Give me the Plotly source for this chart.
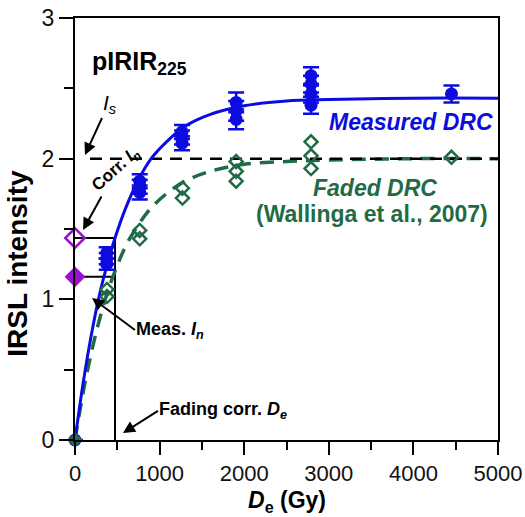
import plotly.graph_objects as go

# ---- data ----
meas_x = [0, 375, 375, 375, 765, 765, 765, 1265, 1265, 1265, 1905, 1905, 1905, 2790, 2790, 2790, 2790, 4450]
meas_y = [0, 1.25, 1.29, 1.33, 1.76, 1.80, 1.84, 2.11, 2.15, 2.19, 2.28, 2.34, 2.40, 2.38, 2.46, 2.53, 2.59, 2.46]
meas_err = [0, 0.04, 0.04, 0.04, 0.05, 0.05, 0.05, 0.05, 0.05, 0.05, 0.07, 0.07, 0.07, 0.06, 0.06, 0.06, 0.06, 0.06]

faded_x = [378, 378, 765, 765, 1270, 1270, 1905, 1905, 1905, 2790, 2790, 2790, 4450]
faded_y = [1.02, 1.07, 1.43, 1.49, 1.72, 1.79, 1.84, 1.91, 1.98, 1.93, 2.02, 2.12, 2.01]

meas_curve_x = [0, 100, 200, 300, 400, 473, 600, 750, 900, 1100, 1300, 1600, 2000, 2500, 3000, 4000, 5000]
meas_curve_y = [0, 0.42, 0.77, 1.06, 1.29, 1.436, 1.65, 1.85, 2.00, 2.13, 2.23, 2.315, 2.376, 2.41, 2.42, 2.43, 2.43]

faded_curve_x = [0, 100, 200, 300, 400, 500, 600, 750, 900, 1100, 1300, 1600, 2000, 2500, 3000, 4000, 5000]
faded_curve_y = [0, 0.35, 0.64, 0.88, 1.08, 1.24, 1.38, 1.53, 1.65, 1.76, 1.84, 1.91, 1.96, 1.98, 1.99, 2.0, 2.0]

sat_level_x = [177, 5000]
sat_level_y = [2.0, 2.0]

I_s_corr = 1.436      # corrected natural signal
I_n_meas = 1.16       # measured natural signal
De_corr = 473         # fading corrected De (Gy)

x_ticks = [0, 1000, 2000, 3000, 4000, 5000]
y_ticks = [0, 1, 2, 3]

BLUE = "#0c0ce0"
GREEN = "#1f6b45"
MAGENTA = "#9a10cf"
FONT = "Arial, Liberation Sans, sans-serif"

fig = go.Figure()

# guide lines
fig.add_trace(go.Scatter(x=[0, De_corr, De_corr], y=[I_s_corr, I_s_corr, 0], mode="lines",
                         line=dict(color="black", width=2), hoverinfo="skip", cliponaxis=False))
fig.add_trace(go.Scatter(x=[0, De_corr], y=[I_n_meas, I_n_meas], mode="lines",
                         line=dict(color="black", width=2), hoverinfo="skip"))

# faded curve (dashed green)
fig.add_trace(go.Scatter(x=faded_curve_x, y=faded_curve_y, mode="lines", line_shape="spline",
                         line=dict(color=GREEN, width=3.5, dash="14px,9px")))
# saturation level
fig.add_trace(go.Scatter(x=sat_level_x, y=sat_level_y, mode="lines",
                         line=dict(color="black", width=2.5, dash="12px,8px")))
# measured curve
fig.add_trace(go.Scatter(x=meas_curve_x, y=meas_curve_y, mode="lines", line_shape="spline",
                         line=dict(color=BLUE, width=3)))

# faded data
fig.add_trace(go.Scatter(x=faded_x, y=faded_y, mode="markers", cliponaxis=False,
                         marker=dict(symbol="diamond-open", size=10, color=GREEN, line=dict(width=2.5, color=GREEN))))
# measured data
fig.add_trace(go.Scatter(x=meas_x, y=meas_y, mode="markers", cliponaxis=False,
                         error_y=dict(type="data", array=meas_err, color=BLUE, thickness=2.5, width=8),
                         marker=dict(symbol="circle", size=13, color=BLUE)))
# zero point
fig.add_trace(go.Scatter(x=[0], y=[0], mode="markers", cliponaxis=False,
                         marker=dict(symbol="diamond", size=12, color="#1d6a4c")))
# natural signals on y axis
fig.add_trace(go.Scatter(x=[0], y=[I_s_corr], mode="markers", cliponaxis=False,
                         marker=dict(symbol="diamond-open", size=15, color=MAGENTA, line=dict(width=2.5, color=MAGENTA))))
fig.add_trace(go.Scatter(x=[0], y=[I_n_meas], mode="markers", cliponaxis=False,
                         marker=dict(symbol="diamond", size=16, color=MAGENTA)))

ann = []
def txt(x, y, text, size, color="black", xanchor="center", angle=0, xref="x", yref="y"):
    ann.append(dict(x=x, y=y, xref=xref, yref=yref, text=text, showarrow=False, xanchor=xanchor,
                    yanchor="middle", textangle=angle, font=dict(family=FONT, size=size, color=color)))

def arrow_txt(x, y, ax, ay, text, size, xanchor, yanchor, angle=0):
    ann.append(dict(x=x, y=y, xref="x", yref="y", ax=ax, ay=ay, axref="pixel", ayref="pixel",
                    text=text, xanchor=xanchor, yanchor=yanchor, textangle=angle,
                    font=dict(family=FONT, size=size, color="black"),
                    showarrow=True, arrowhead=2, arrowsize=1.2, arrowwidth=2,
                    arrowcolor="black", standoff=0, startstandoff=0, borderpad=0))

txt(177, 2.68, "<b>pIRIR<sub>225</sub></b>", 25, xanchor="left")
txt(4965, 2.26, "<b><i>Measured DRC</i></b>", 23, color=BLUE, xanchor="right")
txt(3546, 1.79, "<b><i>Faded DRC</i></b>", 23, color=GREEN)
txt(3511, 1.61, "<b>(Wallinga et al., 2007)</b>", 23, color=GREEN)
txt(-0.135, 0.42, "<b>IRSL intensity</b>", 28, angle=-90, xref="paper", yref="paper")
txt(0.501, -0.145, "<b><i>D</i><sub>e</sub> (Gy)</b>", 23, xref="paper", yref="paper")

arrow_txt(118, 2.026, 17, -37, "<i>I</i><sub><i>s</i></sub>", 21, "left", "bottom")
arrow_txt(95, 1.493, 33, -60, "<b>Corr. <i>I</i><sub><i>n</i></sub></b>", 17, "center", "middle", angle=-42)
arrow_txt(201, 1.009, 43, 32, "<b>Meas. <i>I</i><sub><i>n</i></sub></b>", 18, "left", "middle")
arrow_txt(567, 0.05, 35, -22, "<b>Fading corr. <i>D</i><sub><i>e</i></sub></b>", 18, "left", "middle")

fig.update_layout(
    width=525, height=517,
    margin=dict(l=75, r=27, t=18, b=77, autoexpand=False),
    paper_bgcolor="white", plot_bgcolor="white",
    showlegend=False,
    font=dict(family=FONT, size=23, color="black"),
    annotations=ann,
    xaxis=dict(range=[0, 5000], tickvals=x_ticks, showgrid=False, zeroline=False, automargin=False,
               showline=True, linecolor="black", linewidth=2, mirror=True,
               ticks="outside", ticklen=13, tickwidth=2, tickcolor="black",
               minor=dict(dtick=500, ticks="outside", ticklen=8, tickwidth=2, tickcolor="black"),
               tickfont=dict(size=22, family=FONT, color="#111")),
    yaxis=dict(range=[0, 3], tickvals=y_ticks, showgrid=False, zeroline=False, automargin=False,
               showline=True, linecolor="black", linewidth=2, mirror=True,
               ticks="outside", ticklen=14, tickwidth=2, tickcolor="black",
               minor=dict(dtick=0.5, ticks="outside", ticklen=9, tickwidth=2, tickcolor="black"),
               tickfont=dict(size=23, family=FONT, color="#111")),
)

fig.write_html("out.html")
